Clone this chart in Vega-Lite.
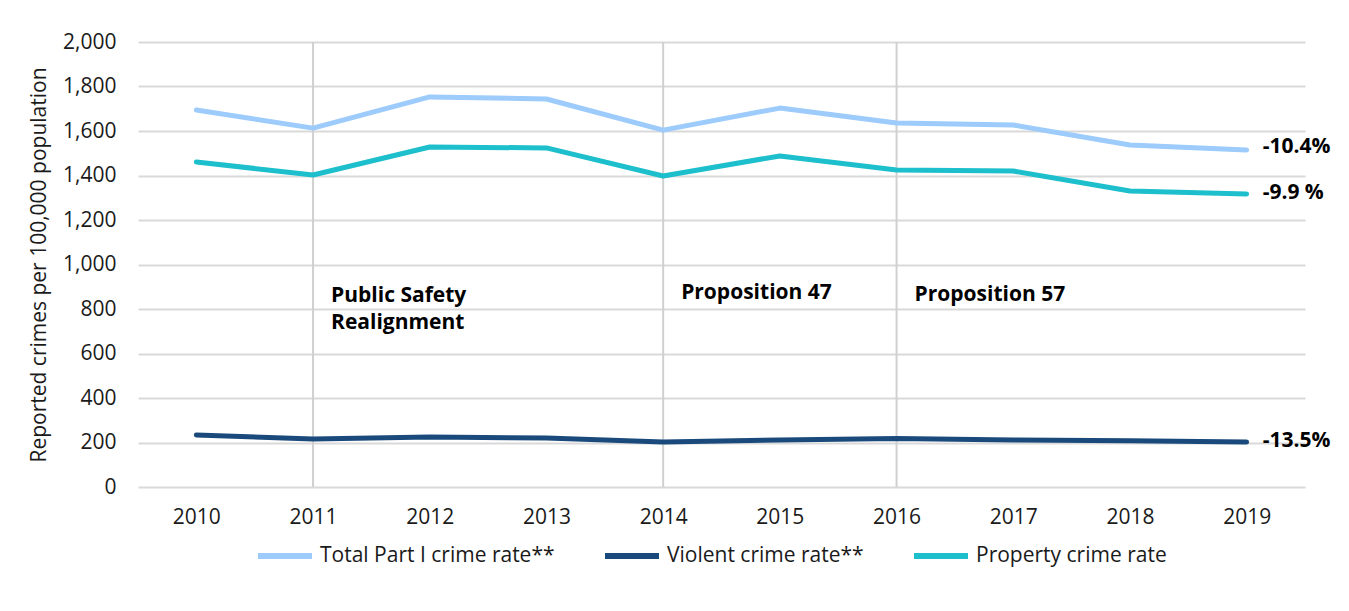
{
  "$schema": "https://vega.github.io/schema/vega-lite/v6.json",
  "width": 1167,
  "height": 445,
  "autosize": "none",
  "padding": {"left": 138, "top": 42, "right": 44, "bottom": 124},
  "background": "white",
  "config": {
    "font": "Open Sans",
    "view": {"stroke": null},
    "axis": {"labelColor": "#1a1a1a", "titleColor": "#1a1a1a", "labelFontSize": 21, "titleFontSize": 21, "titleFontWeight": "normal", "gridColor": "#d9d9d9", "gridWidth": 2, "domain": false, "ticks": false},
    "legend": {"labelColor": "#1a1a1a"}
  },
  "datasets": {
    "series": [
      {"year": 2010, "series": "Total Part I crime rate**", "rate": 1694},
      {"year": 2011, "series": "Total Part I crime rate**", "rate": 1613},
      {"year": 2012, "series": "Total Part I crime rate**", "rate": 1753},
      {"year": 2013, "series": "Total Part I crime rate**", "rate": 1744},
      {"year": 2014, "series": "Total Part I crime rate**", "rate": 1604},
      {"year": 2015, "series": "Total Part I crime rate**", "rate": 1703},
      {"year": 2016, "series": "Total Part I crime rate**", "rate": 1636},
      {"year": 2017, "series": "Total Part I crime rate**", "rate": 1627},
      {"year": 2018, "series": "Total Part I crime rate**", "rate": 1537},
      {"year": 2019, "series": "Total Part I crime rate**", "rate": 1515},
      {"year": 2010, "series": "Violent crime rate**", "rate": 234},
      {"year": 2011, "series": "Violent crime rate**", "rate": 216},
      {"year": 2012, "series": "Violent crime rate**", "rate": 225},
      {"year": 2013, "series": "Violent crime rate**", "rate": 220},
      {"year": 2014, "series": "Violent crime rate**", "rate": 202},
      {"year": 2015, "series": "Violent crime rate**", "rate": 211},
      {"year": 2016, "series": "Violent crime rate**", "rate": 218},
      {"year": 2017, "series": "Violent crime rate**", "rate": 211},
      {"year": 2018, "series": "Violent crime rate**", "rate": 208},
      {"year": 2019, "series": "Violent crime rate**", "rate": 202},
      {"year": 2010, "series": "Property crime rate", "rate": 1461},
      {"year": 2011, "series": "Property crime rate", "rate": 1402},
      {"year": 2012, "series": "Property crime rate", "rate": 1528},
      {"year": 2013, "series": "Property crime rate", "rate": 1524},
      {"year": 2014, "series": "Property crime rate", "rate": 1398},
      {"year": 2015, "series": "Property crime rate", "rate": 1488},
      {"year": 2016, "series": "Property crime rate", "rate": 1425},
      {"year": 2017, "series": "Property crime rate", "rate": 1420},
      {"year": 2018, "series": "Property crime rate", "rate": 1330},
      {"year": 2019, "series": "Property crime rate", "rate": 1317}
    ],
    "changes": [
      {"year": 2019, "rate": 1530, "label": "-10.4%"},
      {"year": 2019, "rate": 1322, "label": "-9.9 %"},
      {"year": 2019, "rate": 205, "label": "-13.5%"}
    ],
    "events": [
      {"year": 2011, "rate": 858, "label": "Public Safety\nRealignment"},
      {"year": 2014, "rate": 874, "label": "Proposition 47"},
      {"year": 2016, "rate": 865, "label": "Proposition 57"}
    ]
  },
  "encoding": {
    "x": {"field": "year", "type": "ordinal", "scale": {"type": "point", "padding": 0.5}, "axis": {"title": null, "labelAngle": 0, "labelPadding": 19, "grid": false}},
    "y": {"field": "rate", "type": "quantitative", "scale": {"domain": [0, 2000]}, "axis": {"title": "Reported crimes per 100,000 population", "values": [0, 200, 400, 600, 800, 1000, 1200, 1400, 1600, 1800, 2000], "format": ",.0f", "labelPadding": 22, "titlePadding": 13}}
  },
  "layer": [
    {
      "data": {"name": "events"},
      "mark": {"type": "rule", "color": "#d0d0d0", "strokeWidth": 2},
      "encoding": {"y": null}
    },
    {
      "data": {"name": "series"},
      "mark": {"type": "line", "strokeWidth": 5, "strokeCap": "round", "strokeJoin": "round"},
      "encoding": {
        "color": {
          "field": "series", "type": "nominal",
          "scale": {"domain": ["Total Part I crime rate**", "Violent crime rate**", "Property crime rate"], "range": ["#9ccbfc", "#1a4a7b", "#1cbfcb"]},
          "sort": null,
          "legend": {"title": null, "orient": "none", "legendX": 117, "legendY": 484, "direction": "horizontal", "symbolType": "stroke", "symbolSize": 2916, "symbolStrokeWidth": 6, "labelFontSize": 21, "labelOffset": 5, "columnPadding": 38, "labelLimit": 400}
        }
      }
    },
    {
      "data": {"name": "changes"},
      "mark": {"type": "text", "align": "left", "baseline": "middle", "dx": 16, "fontSize": 21, "fontWeight": "bold", "color": "#000000"},
      "encoding": {"text": {"field": "label"}}
    },
    {
      "data": {"name": "events"},
      "mark": {"type": "text", "align": "left", "baseline": "middle", "dx": 18, "fontSize": 21, "fontWeight": "bold", "color": "#000000", "lineBreak": "\n", "lineHeight": 27},
      "encoding": {"text": {"field": "label"}}
    }
  ]
}
